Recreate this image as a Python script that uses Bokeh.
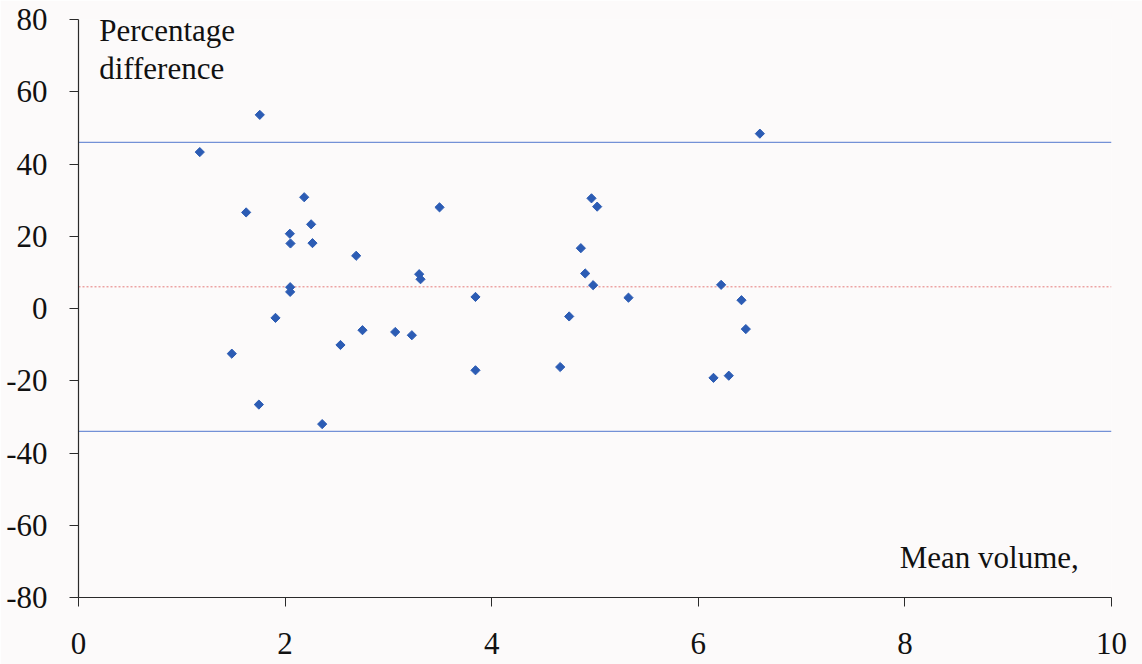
import math
from bokeh.plotting import figure
from bokeh.models import Range1d, Label, FixedTicker
from bokeh.embed import file_html
from bokeh.resources import INLINE

# Bland-Altman style agreement data
mean_volume = [1.755, 1.174, 2.185, 1.623, 3.495, 2.252, 2.046, 2.052, 2.265, 2.688,
               3.298, 3.311, 2.049, 2.049, 3.843, 1.907, 2.749, 3.066, 3.227, 2.536,
               1.484, 3.843, 1.746, 2.359, 6.596, 4.966, 5.021, 4.863, 4.905, 4.982,
               5.324, 4.750, 6.221, 6.418, 6.460, 4.663, 6.147, 6.295]
pct_difference = [53.6, 43.3, 30.8, 26.6, 28.0, 23.3, 20.7, 18.0, 18.1, 14.6,
                  9.5, 8.1, 5.9, 4.6, 3.2, -2.6, -6.0, -6.5, -7.4, -10.1,
                  -12.5, -17.1, -26.6, -32.0, 48.4, 30.5, 28.2, 16.7, 9.7, 6.45,
                  3.0, -2.2, 6.55, 2.3, -5.7, -16.2, -19.2, -18.6]

mean_diff = 6.0
upper_limit = 46.0
lower_limit = -34.0

x_ticks = [0, 2, 4, 6, 8, 10]
y_ticks = [-80, -60, -40, -20, 0, 20, 40, 60, 80]
y_tick_labels = ["-80", "-60", "-40", "-20", "0", "20", "40", "60", "80"]

FONT = "Liberation Serif"
FONT_SIZE = "31px"
BG = "#fcfafa"

p = figure(width=1142, height=664, output_backend="svg", toolbar_location=None,
           x_range=Range1d(0, 10), y_range=Range1d(-80, 80),
           min_border_left=78, min_border_right=31, min_border_top=19, min_border_bottom=67,
           background_fill_color=BG, border_fill_color=BG)
p.outline_line_color = None
p.grid.visible = False

for ax in (p.xaxis, p.yaxis):
    ax.axis_line_color = "#2a2a2a"
    ax.axis_line_width = 1.2
    ax.major_tick_line_color = "#2a2a2a"
    ax.major_tick_out = 9
    ax.major_tick_in = 0
    ax.minor_tick_line_color = None
    ax.major_label_text_font = FONT
    ax.major_label_text_font_size = FONT_SIZE
    ax.major_label_text_color = "#111111"

p.xaxis.ticker = FixedTicker(ticks=x_ticks)
p.yaxis.ticker = FixedTicker(ticks=y_ticks)
p.yaxis.major_label_overrides = {t: s for t, s in zip(y_ticks, y_tick_labels)}
p.xaxis.major_label_standoff = 26
p.yaxis.major_label_standoff = 22

# limits of agreement and mean difference
for val, col, dash, w in [(upper_limit, "#7391d6", "solid", 1.4),
                          (lower_limit, "#7391d6", "solid", 1.4),
                          (mean_diff, "#e57a7a", "2 2", 1.0)]:
    p.line([0, 10], [val, val], line_color=col, line_dash=dash, line_width=w)

p.scatter(mean_volume, pct_difference, marker="square", angle=math.pi / 4,
          size=6.5, fill_color="#2c5cb4", line_color="#2c5cb4")

for txt, x, y in [("Percentage", 0.2, 77.0), ("difference", 0.2, 66.5),
                  ("Mean volume,", 7.95, -69.0)]:
    p.add_layout(Label(x=x, y=y, text=txt, text_font=FONT, text_font_size=FONT_SIZE,
                       text_color="#111111", text_baseline="alphabetic"))

open("out.html", "w").write(file_html(p, INLINE))
